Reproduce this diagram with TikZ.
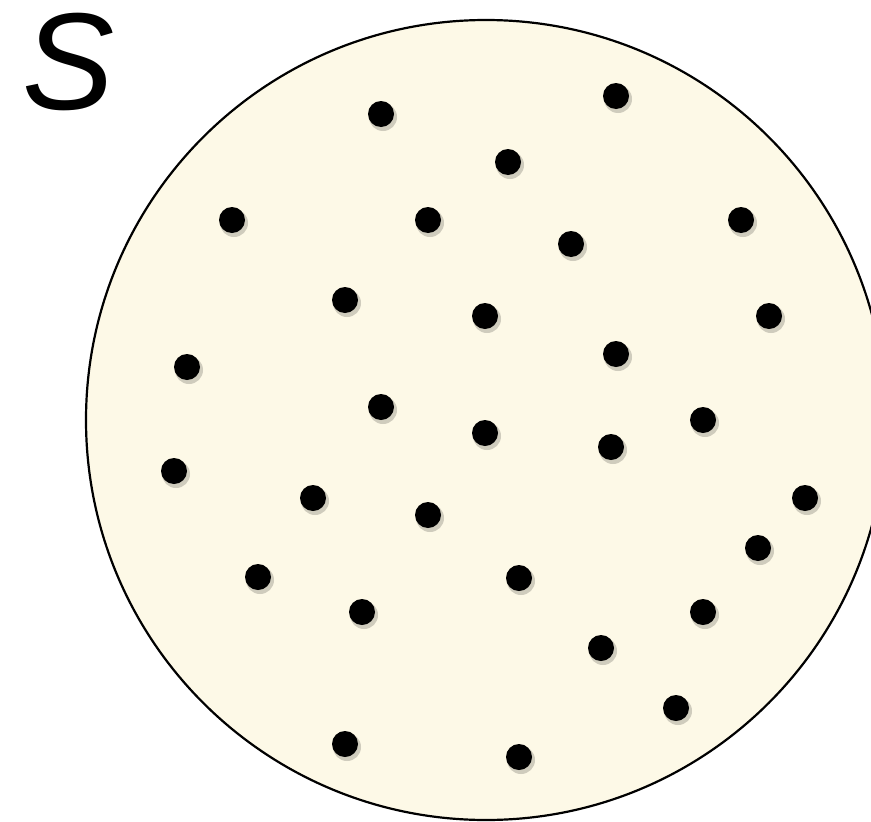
\documentclass[tikz,border=0pt]{standalone}
\usepackage{fontspec}
\setmainfont{Liberation Sans}
\definecolor{cream}{RGB}{253,249,231}
\begin{document}
\begin{tikzpicture}[x=1pt,y=-1pt,
  dotshadow/.style={circle,fill=black,opacity=0.18,minimum size=28pt,inner sep=0pt},
  dotnode/.style={circle,fill=black,minimum size=26pt,inner sep=0pt}]
\useasboundingbox (0,0) rectangle (871,822);
\begin{scope}
\clip (0,0) rectangle (871,822);
\node[circle,draw=black,line width=2.2pt,fill=cream,minimum size=800pt,inner sep=0pt] (S) at (486,420) {};
\end{scope}
\node[inner sep=0pt,font=\fontsize{138}{138}\selectfont\itshape] (lab) at (69,62) {S};
\foreach \x/\y [count=\i] in {381/114,616/96,508/162,232/220,428/220,741/220,571/244,345/300,485/316,769/316,616/354,187/367,381/407,485/433,703/420,611/447,174/471,313/498,428/515,805/498,758/548,258/577,519/578,362/612,703/612,601/648,676/708,345/744,519/757}{
  \node[dotshadow] (sh\i) at (\x+2,\y+3) {};
  \node[dotnode] (d\i) at (\x,\y) {};
}
\end{tikzpicture}
\end{document}
